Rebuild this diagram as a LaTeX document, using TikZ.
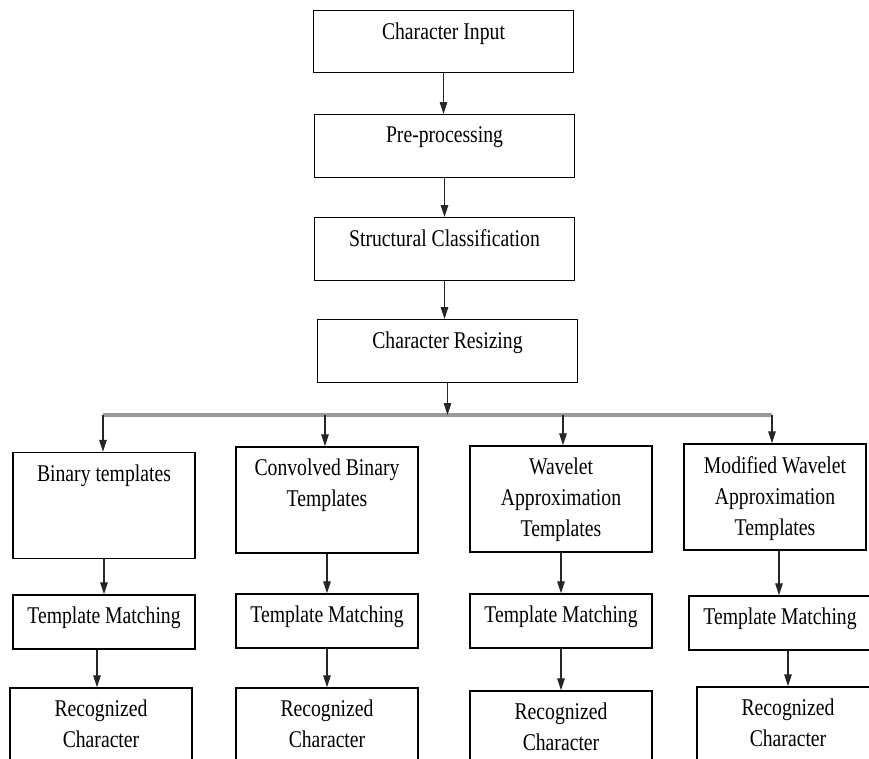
\documentclass[tikz,border=0pt]{standalone}
\usepackage{fontspec}
\setmainfont{Liberation Serif}[FakeStretch=0.82]
\usepackage{tikz}
\usetikzlibrary{arrows.meta,calc}

\begin{document}
\begin{tikzpicture}[
    x=0.02cm,
    y=-0.02cm,
    >={Triangle[length=2.4mm, width=1.5mm]},
    font=\fontsize{13.66}{17.65}\selectfont,
    box/.style={draw, line width=0.8pt, inner sep=0pt, minimum width=3.64cm},
    topbox/.style={box, minimum width=5.2cm, minimum height=1.25cm},
    tplbox/.style={box, minimum height=2.12cm},
    matchbox/.style={box, minimum height=1.08cm},
    recbox/.style={box, minimum height=2.04cm},
    lbl/.style={anchor=north, align=center, inner sep=0pt, yshift=-0.25cm},
    link/.style={->, line width=0.6pt, black!85},
    bus/.style={line width=1.8pt, gray!80}
]
\clip (0,0) rectangle (869,758);

% --- Cadena principal ---
\node[topbox] (input)  at (443.5,41.5) {};
\node[topbox] (prep)   at (444.5,146) {};
\node[topbox] (struct) at (444.5,249) {};
\node[topbox] (resize) at (447.5,351) {};

\node[lbl] at (input.north)  {Character Input};
\node[lbl] at (prep.north)   {Pre-processing};
\node[lbl] at (struct.north) {Structural Classification};
\node[lbl] at (resize.north) {Character Resizing};

\draw[link] (input.south)  -- (input.south |- prep.north);
\draw[link] (prep.south)   -- (prep.south |- struct.north);
\draw[link] (struct.south) -- (struct.south |- resize.north);

% --- Reparto ---
\coordinate (busA) at (103,415);
\coordinate (busB) at (325,415);
\coordinate (busC) at (563,415);
\coordinate (busD) at (772,415);
\draw[bus] (busA) -- (busD);
\draw[link] (resize.south) -- (resize.south |- busA);

% --- Plantillas ---
\node[tplbox] (binary)   at (104,505.5) {};
\node[tplbox] (convolv)  at (327,500) {};
\node[tplbox] (wavelet)  at (561,499) {};
\node[tplbox] (modwave)  at (775,497) {};

\node[lbl] at (binary.north)  {Binary templates};
\node[lbl] at (convolv.north) {Convolved Binary\\Templates};
\node[lbl] at (wavelet.north) {Wavelet\\Approximation\\Templates};
\node[lbl] at (modwave.north) {Modified Wavelet\\Approximation\\Templates};

\draw[link] (busA) -- (busA |- binary.north);
\draw[link] (busB) -- (busB |- convolv.north);
\draw[link] (busC) -- (busC |- wavelet.north);
\draw[link] (busD) -- (busD |- modwave.north);

% --- Emparejamiento ---
\node[matchbox] (matchA) at (104,622) {};
\node[matchbox] (matchB) at (327,621) {};
\node[matchbox] (matchC) at (561,621) {};
\node[matchbox] (matchD) at (780,623) {};

\foreach \m in {matchA,matchB,matchC,matchD} {
    \node[lbl] at (\m.north) {Template Matching};
}

\draw[link] (binary.south)  -- (binary.south |- matchA.north);
\draw[link] (convolv.south) -- (convolv.south |- matchB.north);
\draw[link] (wavelet.south) -- (wavelet.south |- matchC.north);
\draw[link] ([xshift=0.08cm]modwave.south) -- ([xshift=0.08cm]modwave.south |- matchD.north);

% --- Resultado ---
\node[recbox] (recA) at (101,739) {};
\node[recbox] (recB) at (327,739) {};
\node[recbox] (recC) at (561,742) {};
\node[recbox] (recD) at (788,738) {};

\foreach \r in {recA,recB,recC,recD} {
    \node[lbl] at (\r.north) {Recognized\\Character};
}

\draw[link] ([xshift=-0.14cm]matchA.south) -- ([xshift=-0.14cm]matchA.south |- recA.north);
\draw[link] (matchB.south) -- (matchB.south |- recB.north);
\draw[link] (matchC.south) -- (matchC.south |- recC.north);
\draw[link] ([xshift=0.16cm]matchD.south) -- ([xshift=0.16cm]matchD.south |- recD.north);

\end{tikzpicture}
\end{document}
